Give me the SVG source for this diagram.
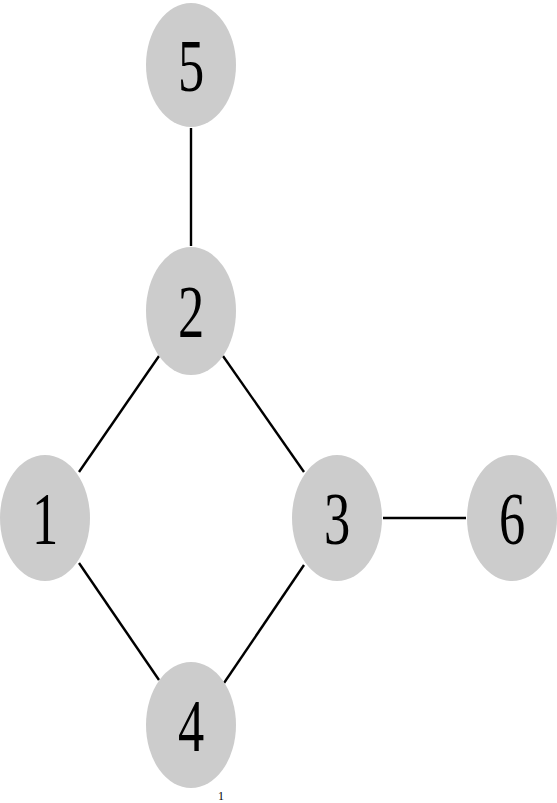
<svg xmlns="http://www.w3.org/2000/svg" width="557" height="803" viewBox="0 0 557 803">
<style>
.node ellipse{fill:#cccccc;stroke:none}
.node text{font-family:"Liberation Serif","DejaVu Serif",serif;font-size:75px;fill:#000;text-anchor:middle}
.edges line{stroke:#000;stroke-width:2.4}
.page{font-family:"Liberation Serif",serif;font-size:12px;fill:#000;text-anchor:middle}
</style>
<rect width="557" height="803" fill="#fff"/>
<g id="edges" class="edges">
<line x1="191" y1="128" x2="191" y2="246"/>
<line x1="159" y1="356" x2="79" y2="472"/>
<line x1="223" y1="356" x2="304" y2="472"/>
<line x1="79" y1="563" x2="159" y2="680"/>
<line x1="304" y1="565" x2="224" y2="683"/>
<line x1="383" y1="518" x2="466" y2="518"/>
</g>
<g id="node5" class="node"><ellipse cx="191" cy="65" rx="45" ry="62"/><text transform="translate(191,91) scale(0.7,1)">5</text></g>
<g id="node2" class="node"><ellipse cx="191" cy="311" rx="45" ry="64"/><text transform="translate(191,337) scale(0.7,1)">2</text></g>
<g id="node1" class="node"><ellipse cx="45" cy="518" rx="45" ry="63"/><text transform="translate(45,544) scale(0.7,1)">1</text></g>
<g id="node3" class="node"><ellipse cx="337" cy="518" rx="45" ry="63"/><text transform="translate(337,544) scale(0.7,1)">3</text></g>
<g id="node6" class="node"><ellipse cx="512" cy="518" rx="45" ry="63"/><text transform="translate(512,544) scale(0.7,1)">6</text></g>
<g id="node4" class="node"><ellipse cx="191" cy="725" rx="45" ry="63"/><text transform="translate(191,751) scale(0.7,1)">4</text></g>
<text class="page" x="221" y="800">1</text>
</svg>
